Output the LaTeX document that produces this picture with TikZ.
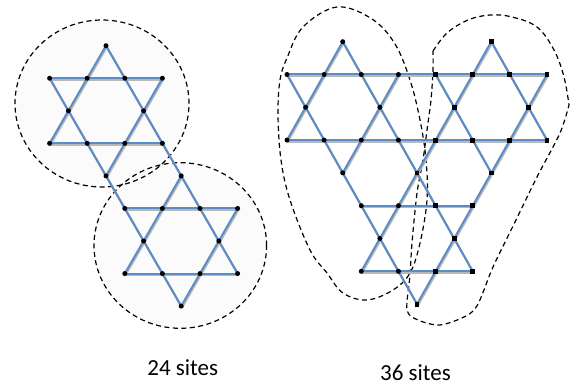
\documentclass[tikz,border=0pt]{standalone}
\usepackage{fontspec}
\setmainfont{Carlito}
\definecolor{bondblue}{RGB}{92,140,200}
\begin{document}
\begin{tikzpicture}[x=1pt,y=-1pt,
  bond/.style={draw=bondblue, line width=2pt},
  bondshadow/.style={draw=black!28, line width=2.2pt},
  siteround/.style={circle, fill=black, inner sep=0pt, minimum size=5pt},
  sitesq/.style={rectangle, fill=black, inner sep=0pt, minimum size=4.8pt},
  region/.style={draw=black, line width=1.2pt, dash pattern=on 5pt off 3.5pt},
  sitecount/.style={font=\fontsize{23}{27}\selectfont, anchor=base}]
\useasboundingbox (0,0) rectangle (577,385);

% ---------- site coordinates ----------
\foreach \u/\r in {0/0,-3/1,-1/1,1/1,3/1,-2/2,2/2,-3/3,-1/3,1/3,3/3,0/4,
                   4/4,1/5,3/5,5/5,7/5,2/6,6/6,1/7,3/7,5/7,7/7,4/8}
  \coordinate (L\u r\r) at ({106+18.8*\u},{45.7+32.55*\r});

\foreach \u/\r in {-4/0,4/0,
                   -7/1,-5/1,-3/1,-1/1,1/1,3/1,5/1,7/1,
                   -6/2,-2/2,2/2,6/2,
                   -7/3,-5/3,-3/3,-1/3,1/3,3/3,5/3,7/3,
                   -4/4,0/4,4/4,
                   -3/5,-1/5,1/5,3/5,
                   -2/6,2/6,
                   -3/7,-1/7,1/7,3/7,
                   0/8}
  \coordinate (R\u r\r) at ({417+18.57*\u},{41.7+32.8*\r});

% ---------- regions ----------
\fill[black!1.6] (102,103.5) ellipse [x radius=87pt, y radius=83.5pt];
\fill[black!1.6] (180.3,245.5) ellipse [x radius=86.3pt, y radius=82.8pt];
\draw[region] (102,103.5) ellipse [x radius=87pt, y radius=83.5pt];
\draw[region] (180.3,245.5) ellipse [x radius=86.3pt, y radius=82.8pt];

\draw[region] plot[smooth cycle, tension=0.6] coordinates {
  (337,7) (372,19) (395,44) (410,80) (420,120) (426,160) (427,200)
  (420,243) (410,273) (393,290) (367,300) (343,293) (327,273) (310,250)
  (290,200) (281,160) (278,115) (280,80) (287,58) (303,27)};

\draw[region] plot[smooth, tension=0.6] coordinates {
  (433,51) (447,33) (468,20) (490,15) (512,17) (537,27) (554,50) (564,77) (569,105)}
  -- plot[smooth, tension=0.5] coordinates {
  (569,105) (560,133) (537,177) (515,222) (493,267) (478,304) (466,316)
  (440,325) (418,320) (407,310) (410,275) (412,243) (417,193) (423,160)
  (427,130) (431,100) (433,70) (433,51)} -- cycle;

% ---------- bonds ----------
\foreach \a/\b in {L-3r1/L3r1, L-3r3/L3r3, L1r5/L7r5, L1r7/L7r7,
                   L0r0/L7r7, L-3r1/L4r8,
                   L0r0/L-3r3, L3r1/L0r4, L4r4/L1r7, L7r5/L4r8,
                   R-7r1/R7r1, R-7r3/R7r3, R-3r5/R3r5, R-3r7/R3r7,
                   R-4r0/R3r7, R-7r1/R0r8, R4r0/R7r3, R1r1/R4r4,
                   R4r0/R-3r7, R7r1/R0r8, R-4r0/R-7r3, R-1r1/R-4r4}
  \draw[bondshadow, transform canvas={shift={(0.8,1.3)}}] (\a) -- (\b);
\foreach \a/\b in {L-3r1/L3r1, L-3r3/L3r3, L1r5/L7r5, L1r7/L7r7,
                   L0r0/L7r7, L-3r1/L4r8,
                   L0r0/L-3r3, L3r1/L0r4, L4r4/L1r7, L7r5/L4r8,
                   R-7r1/R7r1, R-7r3/R7r3, R-3r5/R3r5, R-3r7/R3r7,
                   R-4r0/R3r7, R-7r1/R0r8, R4r0/R7r3, R1r1/R4r4,
                   R4r0/R-3r7, R7r1/R0r8, R-4r0/R-7r3, R-1r1/R-4r4}
  \draw[bond] (\a) -- (\b);

% ---------- sites ----------
\foreach \u/\r in {0/0,-3/1,-1/1,1/1,3/1,-2/2,2/2,-3/3,-1/3,1/3,3/3,0/4,
                   4/4,1/5,3/5,5/5,7/5,2/6,6/6,1/7,3/7,5/7,7/7,4/8}
  \node[siteround] (mL\u r\r) at (L\u r\r) {};
\foreach \u/\r in {-4/0,-7/1,-5/1,-3/1,-1/1,-6/2,-2/2,-7/3,-5/3,-3/3,-1/3,
                   -4/4,-3/5,-1/5,-2/6,-3/7,-1/7}
  \node[siteround] (mR\u r\r) at (R\u r\r) {};
\foreach \u/\r in {4/0,1/1,3/1,5/1,7/1,2/2,6/2,1/3,3/3,5/3,7/3,
                   0/4,4/4,1/5,3/5,2/6,1/7,3/7,0/8}
  \node[sitesq] (mR\u r\r) at (R\u r\r) {};

% ---------- captions ----------
\node[sitecount] (c24) at (182.8,375) {24 sites};
\node[sitecount] (c36) at (415.5,380) {36 sites};
\end{tikzpicture}
\end{document}
